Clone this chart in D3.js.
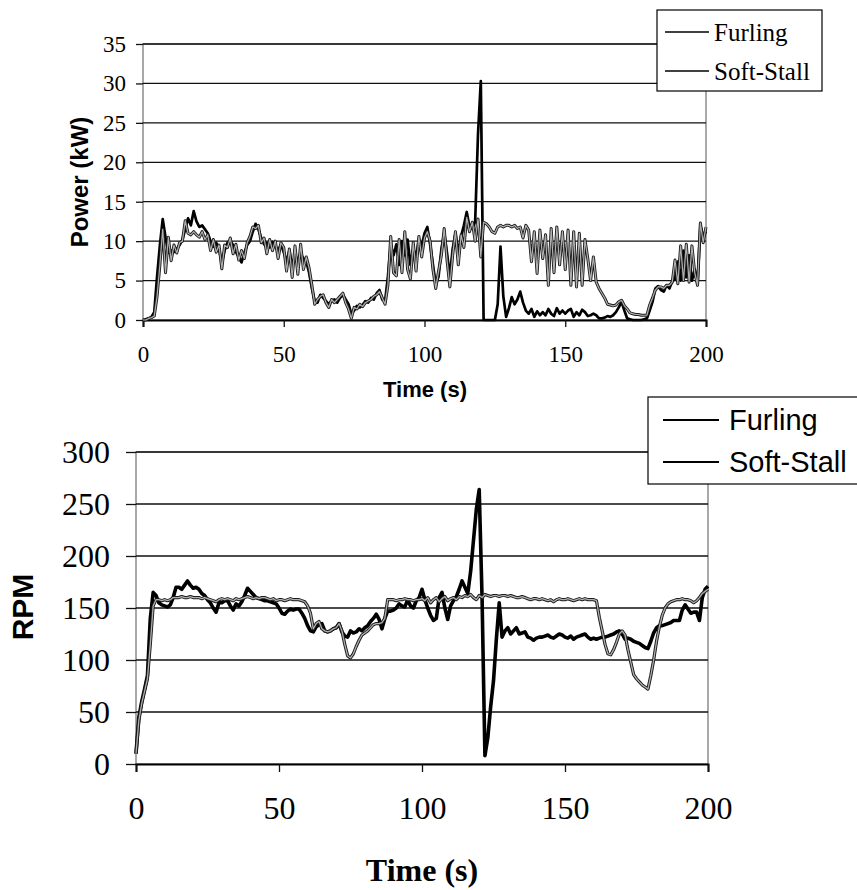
<!DOCTYPE html>
<html>
<head>
<meta charset="utf-8">
<script src="https://cdnjs.cloudflare.com/ajax/libs/d3/7.8.5/d3.min.js"></script>
<style>
body { margin: 0; background: #fff; }
svg { display: block; }
</style>
</head>
<body>
<svg width="857" height="890"></svg>
<script>
// sample times, one reading per second
var seconds = d3.range(0, 201);
var seriesNames = ["Furling", "Soft-Stall"];
var timeTicks = [0, 50, 100, 150, 200];
var powerTicks = [0, 5, 10, 15, 20, 25, 30, 35];
var rpmTicks = [0, 50, 100, 150, 200, 250, 300];

var powerFurling = [
  0, 0.1, 0.2, 0.4, 1.0, 5.5, 9.5, 12.8, 10.5, 8.5,
  8.8, 8.6, 9.0, 9.5, 10.2, 11.5, 12.9, 12.0, 13.8, 12.5,
  11.8, 12.0, 11.5, 11.0, 10.0, 9.3, 9.8, 9.0, 7.2, 8.8,
  9.8, 10.1, 9.5, 8.6, 8.0, 7.3, 8.5, 9.5, 10.0, 11.2,
  12.2, 11.5, 10.4, 9.6, 9.8, 9.2, 9.9, 9.3, 8.8, 9.6,
  8.6, 7.4, 8.8, 6.8, 8.2, 7.6, 8.4, 7.8, 7.4, 6.0,
  4.0, 2.4, 2.2, 3.2, 2.8, 2.4, 2.0, 2.4, 2.6, 2.2,
  2.8, 3.2, 2.6, 2.0, 0.8, 1.2, 1.8, 1.6, 1.9, 2.4,
  2.2, 2.8, 2.6, 3.4, 3.8, 2.6, 2.4, 5.5, 9.5, 8.2,
  9.6, 7.0, 10.0, 8.2, 10.2, 7.0, 9.0, 8.0, 10.2, 9.4,
  11.0, 11.8, 9.6, 7.0, 4.5, 5.5, 9.0, 11.0, 8.5, 5.5,
  9.0, 11.0, 8.4, 10.6, 12.0, 13.7, 11.8, 11.6, 12.5, 23.5,
  30.3, 0, 0, 0, 0, 0, 2.0, 9.3, 3.0, 0.4,
  1.5, 2.9, 2.0, 2.6, 3.6, 2.2, 1.2, 0.8, 1.4, 0.4,
  1.1, 0.6, 1.0, 0.6, 1.4, 0.8, 0.5, 1.5, 0.8, 1.2,
  0.8, 1.2, 1.4, 0.4, 1.0, 0.6, 1.3, 1.0, 0.5, 0.6,
  0.8, 0.6, 0.2, 0.2, 0.3, 0.5, 0.4, 0.6, 1.0, 1.6,
  2.3, 1.2, 0.2, 0.1, 0, 0, 0, 0, 0.1, 0.2,
  1.2, 2.3, 4.0, 4.3, 3.8, 3.6, 4.4, 4.0, 4.9, 5.2,
  7.4, 5.0, 8.8, 5.4, 8.2, 5.0, 6.4, 4.6, 12.0, 10.6, 11.2
];

var powerSoftStall = [
  0, 0, 0.2, 0.3, 0.5, 3.0, 7.0, 11.5, 6.0, 10.5,
  7.5, 9.5, 8.5, 9.8, 10.0, 12.6, 11.0, 10.8, 11.2, 10.8,
  10.5, 11.2, 10.2, 10.8, 8.8, 10.2, 8.6, 9.5, 6.5, 9.5,
  9.2, 10.4, 8.4, 9.6, 7.6, 8.8, 7.8, 9.8, 10.6, 11.8,
  11.6, 12.0, 9.8, 10.4, 8.4, 10.2, 8.8, 10.0, 7.8, 9.8,
  9.2, 6.2, 9.0, 5.4, 9.4, 5.8, 9.6, 6.4, 8.0, 6.6,
  4.4, 2.0, 2.6, 3.0, 3.2, 2.2, 1.6, 2.6, 2.2, 2.6,
  3.0, 3.4, 2.2, 1.4, 0.2, 1.6, 1.4, 2.0, 1.7, 2.2,
  2.4, 2.6, 3.0, 3.2, 3.6, 2.8, 2.0, 4.4, 10.6, 6.0,
  5.6, 10.2, 6.0, 11.2, 6.4, 5.2, 9.8, 6.2, 10.6, 8.0,
  10.4, 11.2, 10.0, 6.4, 4.0, 6.2, 8.2, 11.6, 7.6, 4.2,
  8.2, 11.2, 7.0, 10.8, 9.2, 13.0, 11.2, 12.4, 10.0, 12.8,
  8.0, 12.4, 12.2, 11.8, 11.2, 11.0, 11.8, 12.0, 11.8, 12.0,
  12.0, 11.8, 12.0, 11.6, 11.8, 10.4, 12.0, 11.4, 7.4, 11.2,
  5.9, 11.4, 7.8, 10.8, 4.4, 11.6, 6.0, 11.8, 7.0, 11.2,
  6.4, 11.4, 4.4, 11.2, 4.2, 11.0, 4.4, 10.2, 7.8, 5.0,
  8.0, 4.8, 4.0, 3.4, 2.8, 2.0, 1.9, 1.8, 1.9, 2.3,
  2.5, 1.8, 1.4, 0.9, 0.8, 0.7, 0.7, 0.6, 0.6, 0.6,
  1.9, 2.8, 3.8, 4.2, 4.2, 4.0, 4.4, 4.4, 4.8, 7.6,
  4.6, 9.4, 5.0, 9.6, 4.8, 9.4, 6.0, 4.4, 12.3, 9.8, 11.8
];

var rpmFurling = [
  10, 45, 60, 72, 85, 140, 165, 162, 155, 153,
  152, 151, 153, 160, 170, 170, 168, 172, 176, 172,
  169, 170, 168, 164, 162, 158, 155, 150, 146, 155,
  155, 157, 157, 152, 148, 154, 152, 156, 162, 169,
  166, 163, 160, 159, 158, 157, 157, 156, 155, 154,
  150, 145, 144, 147, 149, 148, 149, 149, 145, 140,
  133, 128, 127, 132, 134, 135, 128, 127, 128, 130,
  131, 135, 127, 123, 122, 128, 126, 127, 130, 128,
  131, 133, 137, 140, 144, 139, 130, 140, 147, 147,
  148, 150, 154, 152, 151, 158, 152, 150, 157, 160,
  168, 158, 150, 143, 138, 140, 160, 165, 150, 139,
  152, 157, 161, 168, 176, 170, 164, 185, 215, 245,
  264, 160, 8, 25, 55, 80, 120, 155, 122, 128,
  131, 125, 128, 131, 125, 126, 127, 122, 121, 119,
  121, 122, 122, 123, 124, 122, 121, 123, 125, 124,
  122, 121, 123, 120, 122, 123, 124, 125, 122, 120,
  121, 120, 121, 122, 122, 123, 124, 125, 127, 128,
  125, 120, 121, 120, 118, 117, 116, 114, 112, 111,
  118, 126, 131, 133, 133, 134, 135, 136, 138, 138,
  138, 148, 153, 149, 145, 146, 146, 138, 160, 168, 171
];

var rpmSoftStall = [
  10, 42, 58, 70, 82, 115, 152, 158, 158, 157,
  158, 157, 158, 160, 160, 160, 161, 160, 160, 161,
  160, 160, 160, 159, 160, 159, 158, 157, 156, 158,
  159, 158, 159, 158, 157, 159, 158, 159, 160, 161,
  160, 159, 160, 159, 160, 160, 159, 158, 159, 157,
  158, 158, 157, 158, 159, 158, 158, 158, 157, 156,
  152, 145, 130, 135, 137, 130, 128, 127, 128, 130,
  131, 135, 128, 115, 104, 102, 106, 113, 119, 124,
  126, 128, 131, 134, 135, 135, 136, 140, 158, 158,
  158, 157, 158, 158, 159, 158, 158, 157, 158, 158,
  159, 157, 160, 155, 158, 160, 156, 159, 161, 157,
  159, 160, 158, 161, 160, 162, 161, 163, 160, 158,
  162, 160, 163, 162, 161, 162, 162, 161, 162, 162,
  161, 162, 161, 160, 160, 161, 160, 159, 158, 159,
  159, 158, 159, 158, 157, 158, 156, 158, 159, 158,
  158, 159, 158, 157, 158, 159, 158, 159, 158, 158,
  158, 157, 141, 128, 115, 106, 105, 110, 117, 125,
  128, 124, 110, 98, 86, 82, 79, 76, 74, 72,
  85, 100, 118, 132, 143, 150, 154, 156, 157, 158,
  158, 159, 158, 158, 157, 155, 157, 160, 164, 166, 168
];

var SERIF = "'Liberation Serif', 'Times New Roman', serif";
var SANS = "'Liberation Sans', Arial, sans-serif";

var svg = d3.select("svg");

function pairs(vals) {
  return seconds.map(function(t, i){ return {t: t, v: vals[i]}; });
}

function drawChart(o) {
  var x = d3.scaleLinear().domain([0, 200]).range([o.left, o.right]);
  var y = d3.scaleLinear().domain([0, o.yMax]).range([o.bottom, o.top]);
  var g = svg.append("g");

  // plot frame (grey, as in the scan)
  g.append("rect")
    .attr("x", o.left).attr("y", o.top)
    .attr("width", o.right - o.left).attr("height", o.bottom - o.top)
    .attr("fill", "none").attr("stroke", "#8c8c8c").attr("stroke-width", 1.5);

  // horizontal gridlines
  g.selectAll(".grid").data(o.yTicks.filter(function(d){ return d > 0; }))
    .enter().append("line")
    .attr("x1", o.left).attr("x2", o.right)
    .attr("y1", function(d){ return y(d); }).attr("y2", function(d){ return y(d); })
    .attr("stroke", "#111").attr("stroke-width", 1.3);

  // axes
  var yAxis = d3.axisLeft(y).tickValues(o.yTicks).tickSize(o.yTickLen).tickPadding(o.yPad);
  var ga = g.append("g").attr("transform", "translate(" + o.left + ",0)").call(yAxis);
  ga.select(".domain").remove();
  ga.selectAll("line").attr("stroke", "#111").attr("stroke-width", 1.3);
  ga.selectAll("text").attr("font-family", SERIF).attr("font-size", o.tickFont).attr("fill", "#000");

  var xAxis = d3.axisBottom(x).tickValues(timeTicks).tickSize(o.xTickLen).tickPadding(o.xPad);
  var gx = g.append("g").attr("transform", "translate(0," + o.bottom + ")").call(xAxis);
  gx.select(".domain").attr("stroke", "#000").attr("stroke-width", 2);
  gx.selectAll("line").attr("stroke", "#111").attr("stroke-width", 1.3);
  gx.selectAll("text").attr("font-family", SERIF).attr("font-size", o.tickFont).attr("fill", "#000");

  // series
  var line = d3.line().x(function(d){ return x(d.t); }).y(function(d){ return y(d.v); });
  g.append("path").datum(pairs(o.furling))
    .attr("d", line).attr("fill", "none")
    .attr("stroke", "#000").attr("stroke-width", o.furlWidth).attr("stroke-linejoin", "round");
  g.append("path").datum(pairs(o.softStall))
    .attr("d", line).attr("fill", "none")
    .attr("stroke", "#1c1c1c").attr("stroke-width", o.softWidth).attr("stroke-linejoin", "round");
  g.append("path").datum(pairs(o.softStall))
    .attr("d", line).attr("fill", "none")
    .attr("stroke", "#b0b0b0").attr("stroke-width", o.softWidth * 0.4).attr("stroke-linejoin", "round");

  // axis titles
  g.append("text")
    .attr("transform", "translate(" + o.yTitleX + "," + o.yTitleY + ") rotate(-90)")
    .attr("text-anchor", "middle")
    .attr("font-family", SANS).attr("font-weight", "bold").attr("font-size", o.yTitleFont)
    .text(o.yTitle);
  g.append("text")
    .attr("x", o.xTitleX).attr("y", o.xTitleY)
    .attr("text-anchor", "middle")
    .attr("font-family", o.xTitleFamily).attr("font-weight", "bold").attr("font-size", o.xTitleFont)
    .text("Time (s)");

  // legend
  var L = o.legend;
  var lg = g.append("g");
  lg.append("rect")
    .attr("x", L.x).attr("y", L.y).attr("width", L.w).attr("height", L.h)
    .attr("fill", "#fff").attr("stroke", "#000").attr("stroke-width", 1.2);
  lg.selectAll(".item").data(seriesNames).enter().append("g")
    .each(function(name, i){
      var it = d3.select(this);
      it.append("line")
        .attr("x1", L.lineX1).attr("x2", L.lineX2)
        .attr("y1", L.rowY[i]).attr("y2", L.rowY[i])
        .attr("stroke", "#000").attr("stroke-width", L.lineW);
      it.append("text")
        .attr("x", L.textX).attr("y", L.rowY[i]).attr("dy", "0.35em")
        .attr("font-family", L.family).attr("font-size", L.font)
        .text(name);
    });
}

drawChart({
  left: 143, right: 706, top: 44, bottom: 320, yMax: 35, yTicks: powerTicks,
  yTickLen: 7, yPad: 10, xTickLen: 7, xPad: 19, tickFont: 23,
  furling: powerFurling, softStall: powerSoftStall, furlWidth: 2.7, softWidth: 3.0,
  yTitle: "Power (kW)", yTitleX: 88, yTitleY: 182, yTitleFont: 24,
  xTitleX: 425, xTitleY: 397, xTitleFont: 22, xTitleFamily: SANS,
  legend: { x: 657, y: 10, w: 165, h: 81, lineX1: 665, lineX2: 709, lineW: 1.6,
            textX: 714, rowY: [32, 71], family: SERIF, font: 25 }
});

drawChart({
  left: 136, right: 708, top: 452, bottom: 764, yMax: 300, yTicks: rpmTicks,
  yTickLen: 10, yPad: 16, xTickLen: 8, xPad: 24, tickFont: 32,
  furling: rpmFurling, softStall: rpmSoftStall, furlWidth: 3.6, softWidth: 3.2,
  yTitle: "RPM", yTitleX: 33, yTitleY: 607, yTitleFont: 30,
  xTitleX: 422, xTitleY: 881, xTitleFont: 32, xTitleFamily: SERIF,
  legend: { x: 648, y: 397, w: 230, h: 87, lineX1: 663, lineX2: 719, lineW: 2,
            textX: 729, rowY: [420, 462], family: SANS, font: 29 }
});
</script>
</body>
</html>
